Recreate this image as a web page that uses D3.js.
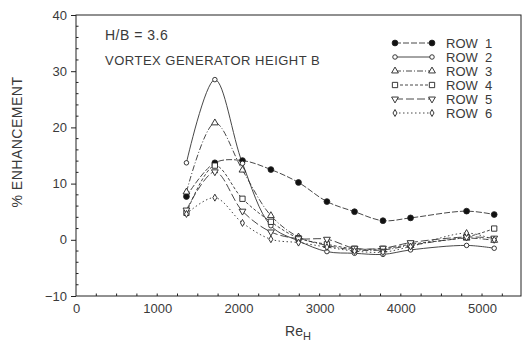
<!DOCTYPE html>
<html>
<head>
<meta charset="utf-8">
<script src="https://cdn.jsdelivr.net/npm/d3@7"></script>
<style>
  body { margin: 0; background: #fff; }
  svg { display: block; }
  text { font-family: "Liberation Sans", Arial, sans-serif; fill: #3a3a3a; }
</style>
</head>
<body>
<div id="chart"></div>
<script>
// --- data
var reynolds = [1360, 1710, 2050, 2400, 2740, 3090, 3430, 3780, 4120, 4810, 5150];
var rowNames = ["ROW 1", "ROW 2", "ROW 3", "ROW 4", "ROW 5", "ROW 6"];
var row1 = [7.7, 13.7, 14.1, 12.5, 10.2, 6.8, 5.0, 3.4, 3.9, 5.1, 4.5];
var row2 = [13.7, 28.5, 13.6, 2.5, -0.2, -2.1, -2.4, -2.6, -1.8, -1.0, -1.5];
var row3 = [8.5, 20.8, 12.4, 4.3, 0.5, -1.0, -1.8, -1.8, -1.0, 0.3, -0.1];
var row4 = [4.8, 13.2, 7.3, 3.2, 0.3, -0.8, -1.6, -1.6, -0.8, 0.5, 2.0];
var row5 = [5.3, 12.1, 5.1, 1.4, 0.2, 0.1, -1.5, -1.5, -0.5, 0.5, 0.3];
var row6 = [4.6, 7.5, 3.0, 0.1, -0.5, -1.3, -2.0, -2.2, -1.2, 1.2, 0.0];
var xTicks = [0, 1000, 2000, 3000, 4000, 5000];
var yTicks = [-10, 0, 10, 20, 30, 40];

var rows = [row1, row2, row3, row4, row5, row6];
var dashes = ["6,2", null, "6,2,1,2", "3,2", "8,3", "1.5,2.5"];
var symbols = [d3.symbolCircle, d3.symbolCircle, d3.symbolTriangle,
               d3.symbolSquare, d3.symbolTriangle, d3.symbolDiamond];
var sizes = [26, 16, 20, 28, 20, 14];
var rotate = [0, 0, 0, 0, 180, 0];

var W = 523, H = 343;
var svg = d3.select("#chart").append("svg")
    .attr("width", W).attr("height", H);

var x = d3.scaleLinear().domain([0, 5480]).range([76, 521]);
var y = d3.scaleLinear().domain([-10, 40]).range([296, 15]);

// frame
svg.append("rect")
    .attr("x", x.range()[0]).attr("y", y.range()[1])
    .attr("width", x.range()[1] - x.range()[0])
    .attr("height", y.range()[0] - y.range()[1])
    .attr("fill", "none").attr("stroke", "#222").attr("stroke-width", 1);

// axes
var xAxis = svg.append("g")
    .attr("transform", "translate(0," + y.range()[0] + ")")
    .call(d3.axisBottom(x).tickValues(xTicks).tickSize(0).tickPadding(8)
      .tickFormat(d3.format("d")));
var yAxis = svg.append("g")
    .attr("transform", "translate(" + x.range()[0] + ",0)")
    .call(d3.axisLeft(y).tickValues(yTicks).tickSize(5).tickPadding(4)
      .tickFormat(function(d) { return d < 0 ? "\u2212" + Math.abs(d) : d; }));
[xAxis, yAxis].forEach(function(g) {
  g.select(".domain").remove();
  g.selectAll("text").style("font-size", "13px").attr("fill", "#3a3a3a");
  g.selectAll("line").attr("stroke", "#222");
});

// minor ticks
svg.append("g").selectAll("line")
    .data(d3.range(250, 5480, 250))
    .enter().append("line")
    .attr("x1", x).attr("x2", x)
    .attr("y1", y.range()[0]).attr("y2", y.range()[0] - 2.5)
    .attr("stroke", "#222");
svg.append("g").selectAll("line")
    .data(d3.range(-8, 40, 2).filter(function(d) { return d % 10 !== 0; }))
    .enter().append("line")
    .attr("x1", x.range()[0]).attr("x2", x.range()[0] + 2.5)
    .attr("y1", y).attr("y2", y)
    .attr("stroke", "#222");

// axis titles
svg.append("text")
    .attr("transform", "translate(22," + 142 + ") rotate(-90)")
    .attr("text-anchor", "middle")
    .style("font-size", "14px")
    .style("letter-spacing", "0.5px")
    .text("% ENHANCEMENT");
var xt = svg.append("text")
    .attr("x", 298).attr("y", 336)
    .attr("text-anchor", "middle")
    .style("font-size", "14px");
xt.append("tspan").text("Re");
xt.append("tspan").attr("dy", 4).style("font-size", "11px").text("H");

// annotations
svg.append("text").attr("x", 105).attr("y", 40)
    .style("font-size", "14px").style("letter-spacing", "0.5px").text("H/B = 3.6");
svg.append("text").attr("x", 105).attr("y", 65)
    .style("font-size", "13px").style("letter-spacing", "0.5px")
    .text("VORTEX GENERATOR HEIGHT B");

// curves
var line = d3.line()
    .x(function(d, i) { return x(reynolds[i]); })
    .y(function(d) { return y(d); })
    .curve(d3.curveCatmullRom.alpha(0.5));

rows.forEach(function(r, k) {
  svg.append("path")
      .datum(r)
      .attr("d", line)
      .attr("fill", "none")
      .attr("stroke", "#333")
      .attr("stroke-width", 0.9)
      .attr("stroke-dasharray", dashes[k]);
});

function marker(g, k, px, py) {
  g.append("path")
      .attr("d", d3.symbol().type(symbols[k]).size(sizes[k]))
      .attr("transform", "translate(" + px + "," + py + ") rotate(" + rotate[k] + ")")
      .attr("fill", k === 0 ? "#111" : "#fff")
      .attr("stroke", "#222")
      .attr("stroke-width", 0.9);
}

var pts = svg.append("g");
rows.forEach(function(r, k) {
  r.forEach(function(v, i) { marker(pts, k, x(reynolds[i]), y(v)); });
});

// legend
var lg = svg.append("g");
rowNames.forEach(function(name, k) {
  var ly = 43 + k * 14;
  lg.append("line")
      .attr("x1", 395).attr("x2", 432)
      .attr("y1", ly).attr("y2", ly)
      .attr("stroke", "#333").attr("stroke-width", 0.9)
      .attr("stroke-dasharray", dashes[k]);
  marker(lg, k, 395, ly);
  marker(lg, k, 432, ly);
  lg.append("text")
      .attr("x", 446).attr("y", ly + 5)
      .style("font-size", "13px")
      .attr("xml:space", "preserve")
      .text(name.replace(" ", "  "));
});
</script>
</body>
</html>
